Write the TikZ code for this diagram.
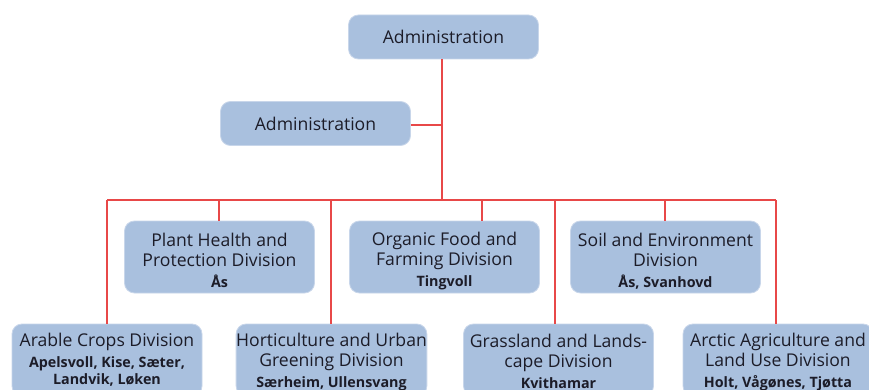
\documentclass[tikz,border=0pt]{standalone}
\usepackage{fontspec}
\setmainfont{Open Sans}
\definecolor{boxfill}{RGB}{169,192,222}
\definecolor{boxedge}{RGB}{200,214,234}
\definecolor{linkred}{RGB}{232,72,72}
\definecolor{txt}{RGB}{28,28,40}
\tikzset{
  orgbox/.style={draw=boxedge, line width=0.8pt, fill=boxfill, rounded corners=10pt,
    minimum width=190pt, minimum height=72pt, inner sep=0pt, align=center,
    text=txt, font=\fontsize{17.6}{20}\selectfont},
  adminbox/.style={orgbox, minimum height=44pt},
  link/.style={draw=linkred, line width=1.4pt}
}
\newcommand{\placefont}{\fontsize{14.3}{17}\selectfont\bfseries}
\newcommand{\placeline}[1]{\\[1pt]{\placefont #1}}
\newcommand{\topstrut}{\rule{0pt}{21pt}}
\newcommand{\lowstrut}{\rule{0pt}{17pt}}
\begin{document}
\begin{tikzpicture}[x=1pt,y=-1pt]
\useasboundingbox (0,0) rectangle (869,390);
\clip (0,0) rectangle (869,390);
\fill[white] (0,0) rectangle (869,390);
% boxes
\node[adminbox] (top) at (443.5,37) {Administration};
\node[adminbox] (adm) at (315.5,123.5) {Administration};
\node[orgbox] (plant) at (219.5,257) {\topstrut Plant Health and\\Protection Division\placeline{Ås}};
\node[orgbox] (organic) at (444.5,257) {\topstrut Organic Food and\\Farming Division\placeline{Tingvoll}};
\node[orgbox] (soil) at (665.5,257) {\topstrut Soil and Environment\\Division\placeline{Ås, Svanhovd}};
\node[orgbox] (arable) at (107,360) {Arable Crops Division\placeline{Apelsvoll, Kise, Sæter,}\\[-3pt]{\placefont Landvik, Løken}};
\node[orgbox] (horti) at (331.5,360) {\lowstrut Horticulture and Urban\\Greening Division\placeline{Særheim, Ullensvang}};
\node[orgbox] (grass) at (558.5,360) {\lowstrut Grassland and Lands-\\cape Division\placeline{Kvithamar}};
\node[orgbox] (arctic) at (778,360) {\lowstrut Arctic Agriculture and\\Land Use Division\placeline{Holt, Vågønes, Tjøtta}};
% bus coordinates
\coordinate (trunk) at (442,200);
\coordinate (busL) at (107,200);
\coordinate (busR) at (776,200);
\coordinate (admj) at (442,125);
\coordinate (jplant) at (219,200);
\coordinate (jhorti) at (331,200);
\coordinate (jorg) at (482,200);
\coordinate (jgrass) at (555,200);
\coordinate (jsoil) at (665,200);
% connectors
\draw[link] (top.south -| trunk) -- (trunk);
\draw[link] (adm.east |- admj) -- (admj);
\draw[link] (busL) -- (busR);
\draw[link] (busL) -- (arable.north -| busL);
\draw[link] (jplant) -- (plant.north -| jplant);
\draw[link] (jhorti) -- (horti.north -| jhorti);
\draw[link] (jorg) -- (organic.north -| jorg);
\draw[link] (jgrass) -- (grass.north -| jgrass);
\draw[link] (jsoil) -- (soil.north -| jsoil);
\draw[link] (busR) -- (arctic.north -| busR);
\end{tikzpicture}
\end{document}
